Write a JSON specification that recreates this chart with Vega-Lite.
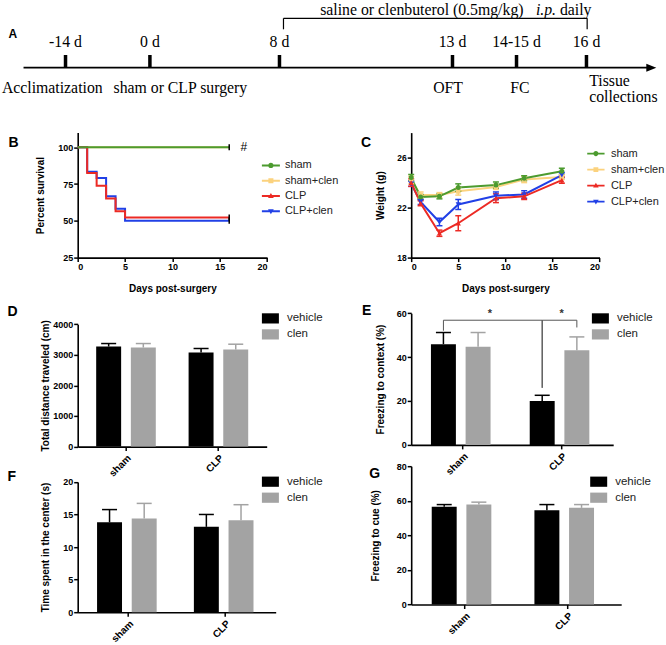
{
 "$schema": "https://vega.github.io/schema/vega-lite/v6.json",
 "padding": {"left": 1.7, "top": 0, "right": 0, "bottom": 0},
 "background": "white",
 "config": {
  "font": "Liberation Sans",
  "view": {"stroke": null},
  "axis": {"domainColor": "#000", "domainWidth": 1.6, "tickColor": "#000", "tickWidth": 1.5, "tickSize": 4, "labelColor": "#000", "labelFontSize": 9, "labelFontWeight": "bold", "labelFont": "Liberation Sans", "labelPadding": 1, "labelOverlap": false, "titleFont": "Liberation Sans", "titleFontSize": 10, "titleFontWeight": "bold", "titleColor": "#000", "grid": false},
  "axisY": {"labelOverlap": false},
  "axisLeft": {"labelOverlap": false},
  "axisQuantitative": {"labelOverlap": false},
  "legend": {"labelFont": "Liberation Sans", "labelColor": "#222", "padding": 0},
  "title": {"font": "Liberation Sans", "fontSize": 14, "fontWeight": "bold", "color": "#000", "anchor": "start", "frame": "group", "offset": 0, "baseline": "alphabetic"}
 },
 "datasets": {
  "timeline": [{"start": -9.34, "end": 98.9}],
  "events": [{"pos": -2.10, "label": "-14 d"}, {"pos": 12.45, "label": "0 d"}, {"pos": 34.79, "label": "8 d"}, {"pos": 64.62, "label": "13 d"}, {"pos": 75.66, "label": "14-15 d"}, {"pos": 87.72, "label": "16 d"}],
  "notes": [{"pos": -13.07, "note": "Acclimatization"}, {"pos": 6.17, "note": "sham or CLP surgery"}, {"pos": 61.29, "note": "OFT"}, {"pos": 74.57, "note": "FC"}],
  "notes2": [{"pos": 88.19, "note": "Tissue\ncollections"}],
  "bracket": [{"left": 35.48, "right": 87.84}],
  "treatment": [{"pos": 41.81, "text": "saline or clenbuterol (0.5mg/kg)"}, {"pos": 83.14, "text": "daily"}],
  "treatmentItalic": [{"pos": 79.0, "text": "i.p."}],
  "survival": [
   {"group": "sham+clen", "day": 0, "pct": 100}, {"group": "sham+clen", "day": 16, "pct": 100},
   {"group": "CLP+clen", "day": 0, "pct": 100}, {"group": "CLP+clen", "day": 1, "pct": 83.3}, {"group": "CLP+clen", "day": 2, "pct": 79.2}, {"group": "CLP+clen", "day": 3, "pct": 66.7}, {"group": "CLP+clen", "day": 4, "pct": 58.3}, {"group": "CLP+clen", "day": 5, "pct": 50}, {"group": "CLP+clen", "day": 16, "pct": 50},
   {"group": "CLP", "day": 0, "pct": 100}, {"group": "CLP", "day": 1, "pct": 82.6}, {"group": "CLP", "day": 2, "pct": 73.9}, {"group": "CLP", "day": 3, "pct": 65.2}, {"group": "CLP", "day": 4, "pct": 56.5}, {"group": "CLP", "day": 5, "pct": 52.2}, {"group": "CLP", "day": 16, "pct": 52.2},
   {"group": "sham", "day": 0, "pct": 100}, {"group": "sham", "day": 16, "pct": 100}
  ],
  "censor": [{"day": 16, "pct": 100}, {"day": 16, "pct": 52.2}, {"day": 16, "pct": 50}],
  "hash": [{"day": 17.55, "pct": 100, "t": "#"}],
  "weight": [
   {"group": "sham+clen", "day": 0, "mean": 24.2, "lo": 23.9, "hi": 24.5}, {"group": "sham+clen", "day": 1, "mean": 23.0, "lo": 22.75, "hi": 23.25}, {"group": "sham+clen", "day": 3, "mean": 23.0, "lo": 22.8, "hi": 23.2}, {"group": "sham+clen", "day": 5, "mean": 23.3, "lo": 23.0, "hi": 23.6}, {"group": "sham+clen", "day": 9, "mean": 23.65, "lo": 23.45, "hi": 23.85}, {"group": "sham+clen", "day": 12, "mean": 24.25, "lo": 24.0, "hi": 24.5}, {"group": "sham+clen", "day": 16, "mean": 24.45, "lo": 24.25, "hi": 24.65},
   {"group": "CLP+clen", "day": 0, "mean": 23.9, "lo": 23.7, "hi": 24.1}, {"group": "CLP+clen", "day": 1, "mean": 22.45, "lo": 22.25, "hi": 22.65}, {"group": "CLP+clen", "day": 3, "mean": 20.85, "lo": 20.55, "hi": 21.15}, {"group": "CLP+clen", "day": 5, "mean": 22.25, "lo": 21.85, "hi": 22.65}, {"group": "CLP+clen", "day": 9, "mean": 22.95, "lo": 22.65, "hi": 23.25}, {"group": "CLP+clen", "day": 12, "mean": 23.05, "lo": 22.75, "hi": 23.35}, {"group": "CLP+clen", "day": 16, "mean": 24.6, "lo": 24.4, "hi": 24.8},
   {"group": "CLP", "day": 0, "mean": 24.0, "lo": 23.7, "hi": 24.3}, {"group": "CLP", "day": 1, "mean": 22.35, "lo": 22.15, "hi": 22.55}, {"group": "CLP", "day": 3, "mean": 19.95, "lo": 19.7, "hi": 20.2}, {"group": "CLP", "day": 5, "mean": 20.75, "lo": 20.15, "hi": 21.35}, {"group": "CLP", "day": 9, "mean": 22.75, "lo": 22.4, "hi": 23.1}, {"group": "CLP", "day": 12, "mean": 22.9, "lo": 22.65, "hi": 23.15}, {"group": "CLP", "day": 16, "mean": 24.2, "lo": 23.95, "hi": 24.45},
   {"group": "sham", "day": 0, "mean": 24.4, "lo": 24.15, "hi": 24.65}, {"group": "sham", "day": 1, "mean": 22.85, "lo": 22.65, "hi": 23.05}, {"group": "sham", "day": 3, "mean": 22.9, "lo": 22.7, "hi": 23.1}, {"group": "sham", "day": 5, "mean": 23.6, "lo": 23.3, "hi": 23.9}, {"group": "sham", "day": 9, "mean": 23.8, "lo": 23.55, "hi": 24.05}, {"group": "sham", "day": 12, "mean": 24.35, "lo": 24.15, "hi": 24.55}, {"group": "sham", "day": 16, "mean": 24.9, "lo": 24.65, "hi": 25.15}
  ],
  "distance": [{"group": "sham", "treat": "vehicle", "mean": 3270, "upper": 3368}, {"group": "sham", "treat": "clen", "mean": 3237, "upper": 3368}, {"group": "CLP", "treat": "vehicle", "mean": 3074, "upper": 3204}, {"group": "CLP", "treat": "clen", "mean": 3171, "upper": 3346}],
  "context": [{"group": "sham", "treat": "vehicle", "mean": 45.9, "upper": 51.2}, {"group": "sham", "treat": "clen", "mean": 44.7, "upper": 51.2}, {"group": "CLP", "treat": "vehicle", "mean": 20.0, "upper": 22.6}, {"group": "CLP", "treat": "clen", "mean": 43.1, "upper": 49.2}],
  "brackets": [
   {"b": 1, "ord": 1, "group": "sham", "treat": "vehicle", "v": 52.0}, {"b": 1, "ord": 2, "group": "sham", "treat": "vehicle", "v": 56.8}, {"b": 1, "ord": 3, "group": "CLP", "treat": "vehicle", "v": 56.8}, {"b": 1, "ord": 4, "group": "CLP", "treat": "vehicle", "v": 26.0},
   {"b": 2, "ord": 1, "group": "CLP", "treat": "vehicle", "v": 26.0}, {"b": 2, "ord": 2, "group": "CLP", "treat": "vehicle", "v": 56.8}, {"b": 2, "ord": 3, "group": "CLP", "treat": "clen", "v": 56.8}, {"b": 2, "ord": 4, "group": "CLP", "treat": "clen", "v": 53.5}
  ],
  "stars": [{"b": 1, "group": "sham", "t": "*", "v": 61.4}, {"b": 2, "group": "CLP", "t": "*", "v": 61.4}],
  "center": [{"group": "sham", "treat": "vehicle", "mean": 13.8, "upper": 15.75}, {"group": "sham", "treat": "clen", "mean": 14.37, "upper": 16.7}, {"group": "CLP", "treat": "vehicle", "mean": 13.1, "upper": 15.0}, {"group": "CLP", "treat": "clen", "mean": 14.1, "upper": 16.5}],
  "cue": [{"group": "sham", "treat": "vehicle", "mean": 56.5, "upper": 57.8}, {"group": "sham", "treat": "clen", "mean": 57.8, "upper": 59.2}, {"group": "CLP", "treat": "vehicle", "mean": 54.5, "upper": 57.8}, {"group": "CLP", "treat": "clen", "mean": 55.9, "upper": 57.8}]
 },
 "bounds": "flush",
 "spacing": 55.6,
 "resolve": {"scale": {"color": "independent"}, "legend": {"color": "independent"}},
 "vconcat": [
  {
   "width": 580, "height": 76.1,
   "title": {"text": "A", "fontSize": 12, "dx": -69.2, "dy": 44.5},
   "layer": [
    {"data": {"name": "timeline"}, "mark": {"type": "rule", "strokeWidth": 1.8, "color": "#000"},
     "encoding": {"x": {"field": "start", "type": "quantitative", "scale": {"domain": [0, 100], "nice": false, "zero": false}, "axis": null}, "x2": {"field": "end"}, "y": {"datum": 0, "type": "quantitative", "scale": {"domain": [-0.84, 6.77], "nice": false, "zero": false}, "axis": null}}},
    {"data": {"name": "timeline"}, "mark": {"type": "point", "shape": "M-1,-0.8L1,0L-1,0.8Z", "filled": true, "size": 100, "color": "#000", "opacity": 1},
     "encoding": {"x": {"field": "end", "type": "quantitative", "scale": {"domain": [0, 100], "nice": false, "zero": false}, "axis": null}, "y": {"datum": 0, "type": "quantitative", "scale": {"domain": [-0.84, 6.77], "nice": false, "zero": false}, "axis": null}}},
    {"data": {"name": "events"}, "mark": {"type": "rule", "strokeWidth": 3.5, "color": "#000"},
     "encoding": {"x": {"field": "pos", "type": "quantitative", "scale": {"domain": [0, 100], "nice": false, "zero": false}, "axis": null}, "y": {"datum": 0, "type": "quantitative", "scale": {"domain": [-0.84, 6.77], "nice": false, "zero": false}, "axis": null}, "y2": {"datum": 1.27}}},
    {"data": {"name": "events"}, "mark": {"type": "text", "font": "Liberation Serif", "fontSize": 15.8, "baseline": "alphabetic", "align": "center", "color": "#000"},
     "encoding": {"x": {"field": "pos", "type": "quantitative", "scale": {"domain": [0, 100], "nice": false, "zero": false}, "axis": null}, "y": {"datum": 2.1, "type": "quantitative", "scale": {"domain": [-0.84, 6.77], "nice": false, "zero": false}, "axis": null}, "text": {"field": "label"}}},
    {"data": {"name": "notes"}, "mark": {"type": "text", "font": "Liberation Serif", "fontSize": 15.8, "baseline": "alphabetic", "align": "left", "color": "#000"},
     "encoding": {"x": {"field": "pos", "type": "quantitative", "scale": {"domain": [0, 100], "nice": false, "zero": false}, "axis": null}, "y": {"datum": -2.5, "type": "quantitative", "scale": {"domain": [-0.84, 6.77], "nice": false, "zero": false}, "axis": null}, "text": {"field": "note"}}},
    {"data": {"name": "notes2"}, "mark": {"type": "text", "font": "Liberation Serif", "fontSize": 15.8, "baseline": "alphabetic", "align": "left", "color": "#000", "lineBreak": "\n", "lineHeight": 15.7},
     "encoding": {"x": {"field": "pos", "type": "quantitative", "scale": {"domain": [0, 100], "nice": false, "zero": false}, "axis": null}, "y": {"datum": -1.83, "type": "quantitative", "scale": {"domain": [-0.84, 6.77], "nice": false, "zero": false}, "axis": null}, "text": {"field": "note"}}},
    {"data": {"name": "bracket"}, "mark": {"type": "rule", "strokeWidth": 1.2, "color": "#000"},
     "encoding": {"x": {"field": "left", "type": "quantitative", "scale": {"domain": [0, 100], "nice": false, "zero": false}, "axis": null}, "x2": {"field": "right"}, "y": {"datum": 4.94, "type": "quantitative", "scale": {"domain": [-0.84, 6.77], "nice": false, "zero": false}, "axis": null}}},
    {"data": {"name": "bracket"}, "mark": {"type": "rule", "strokeWidth": 1.2, "color": "#000"},
     "encoding": {"x": {"field": "left", "type": "quantitative", "scale": {"domain": [0, 100], "nice": false, "zero": false}, "axis": null}, "y": {"datum": 3.84, "type": "quantitative", "scale": {"domain": [-0.84, 6.77], "nice": false, "zero": false}, "axis": null}, "y2": {"datum": 4.94}}},
    {"data": {"name": "bracket"}, "mark": {"type": "rule", "strokeWidth": 1.2, "color": "#000"},
     "encoding": {"x": {"field": "right", "type": "quantitative", "scale": {"domain": [0, 100], "nice": false, "zero": false}, "axis": null}, "y": {"datum": 3.84, "type": "quantitative", "scale": {"domain": [-0.84, 6.77], "nice": false, "zero": false}, "axis": null}, "y2": {"datum": 4.94}}},
    {"data": {"name": "treatment"}, "mark": {"type": "text", "font": "Liberation Serif", "fontSize": 15.8, "baseline": "top", "align": "left", "color": "#000"},
     "encoding": {"x": {"field": "pos", "type": "quantitative", "scale": {"domain": [0, 100], "nice": false, "zero": false}, "axis": null}, "y": {"datum": 6.52, "type": "quantitative", "scale": {"domain": [-0.84, 6.77], "nice": false, "zero": false}, "axis": null}, "text": {"field": "text"}}},
    {"data": {"name": "treatmentItalic"}, "mark": {"type": "text", "font": "Liberation Serif", "fontSize": 15.8, "fontStyle": "italic", "baseline": "top", "align": "left", "color": "#000"},
     "encoding": {"x": {"field": "pos", "type": "quantitative", "scale": {"domain": [0, 100], "nice": false, "zero": false}, "axis": null}, "y": {"datum": 6.52, "type": "quantitative", "scale": {"domain": [-0.84, 6.77], "nice": false, "zero": false}, "axis": null}, "text": {"field": "text"}}}
   ]
  },
  {
   "concat": [
    {
     "width": 189.4, "height": 125,
     "title": {"text": "B", "dx": -69.2, "dy": 21.1},
     "layer": [
      {"data": {"name": "survival"}, "mark": {"type": "line", "interpolate": "step-after", "strokeWidth": 2},
       "encoding": {
        "x": {"field": "day", "type": "quantitative", "scale": {"domain": [0, 20], "nice": false}, "axis": {"values": [0, 5, 10, 15, 20], "title": "Days post-surgery", "titlePadding": 12}},
        "y": {"field": "pct", "type": "quantitative", "scale": {"domain": [25, 110], "nice": false, "zero": false}, "axis": {"values": [25, 50, 75, 100], "title": "Percent survival", "titleX": -32, "titleBaseline": "bottom"}},
        "color": {"field": "group", "type": "nominal", "scale": {"domain": ["sham", "sham+clen", "CLP", "CLP+clen"], "range": ["#4c9b2f", "#fbd27e", "#ec2a24", "#2140e6"]},
         "legend": {"orient": "none", "legendX": 184.2, "legendY": 23.8, "title": null, "symbolSize": 324, "symbolStrokeWidth": 0, "labelFontSize": 11, "labelOffset": 5, "rowPadding": 1.3, "padding": 0,
          "encode": {"symbols": {"update": {"shape": {"signal": "datum.value === 'sham' ? 'M-1,-0.11H1V0.11H-1Z M0.3,0A0.3,0.3 0 1 1 -0.3,0A0.3,0.3 0 1 1 0.3,0Z' : datum.value === 'sham+clen' ? 'M-1,-0.11H1V0.11H-1Z M-0.28,-0.28H0.28V0.28H-0.28Z' : datum.value === 'CLP' ? 'M-1,-0.11H1V0.11H-1Z M0,-0.34L0.32,0.22L-0.32,0.22Z' : 'M-1,-0.11H1V0.11H-1Z M0,0.34L-0.32,-0.22L0.32,-0.22Z'"}, "fill": {"signal": "datum.value === 'sham' ? '#4c9b2f' : datum.value === 'sham+clen' ? '#fbd27e' : datum.value === 'CLP' ? '#ec2a24' : '#2140e6'"}, "opacity": {"value": 1}}}}}}
       }},
      {"data": {"name": "censor"}, "mark": {"type": "tick", "orient": "vertical", "size": 6, "thickness": 1.5, "color": "#000", "opacity": 1},
       "encoding": {"x": {"field": "day", "type": "quantitative", "scale": {"domain": [0, 20], "nice": false}}, "y": {"field": "pct", "type": "quantitative", "scale": {"domain": [25, 110], "nice": false, "zero": false}}}},
      {"data": {"name": "hash"}, "mark": {"type": "text", "fontSize": 12, "color": "#000", "baseline": "middle", "align": "center"},
       "encoding": {"x": {"field": "day", "type": "quantitative", "scale": {"domain": [0, 20], "nice": false}}, "y": {"field": "pct", "type": "quantitative", "scale": {"domain": [25, 110], "nice": false, "zero": false}}, "text": {"field": "t"}}}
     ]
    },
    {
     "width": 188.3, "height": 125,
     "title": {"text": "C", "dx": -50.3, "dy": 21.1},
     "layer": [
      {"data": {"name": "weight"}, "mark": {"type": "line", "strokeWidth": 2},
       "encoding": {
        "x": {"field": "day", "type": "quantitative", "scale": {"domain": [0, 20], "nice": false}, "axis": {"values": [0, 5, 10, 15, 20], "title": "Days post-surgery", "titlePadding": 12}},
        "y": {"field": "mean", "type": "quantitative", "scale": {"domain": [18, 28], "nice": false, "zero": false}, "axis": {"values": [18, 20, 22, 24, 26, 28], "title": "Weight (g)", "titleX": -26, "titleBaseline": "bottom", "labelOverlap": false, "labelSeparation": -30, "labelFontSize": 8.5}},
        "color": {"field": "group", "type": "nominal", "scale": {"domain": ["sham", "sham+clen", "CLP", "CLP+clen"], "range": ["#4c9b2f", "#fbd27e", "#ec2a24", "#2140e6"]},
         "legend": {"orient": "none", "legendX": 175.7, "legendY": 12, "title": null, "symbolSize": 300, "symbolStrokeWidth": 0, "labelFontSize": 11, "labelOffset": 6, "rowPadding": 2, "padding": 0,
          "encode": {"symbols": {"update": {"shape": {"signal": "datum.value === 'sham' ? 'M-1,-0.11H1V0.11H-1Z M0.3,0A0.3,0.3 0 1 1 -0.3,0A0.3,0.3 0 1 1 0.3,0Z' : datum.value === 'sham+clen' ? 'M-1,-0.11H1V0.11H-1Z M-0.28,-0.28H0.28V0.28H-0.28Z' : datum.value === 'CLP' ? 'M-1,-0.11H1V0.11H-1Z M0,-0.34L0.32,0.22L-0.32,0.22Z' : 'M-1,-0.11H1V0.11H-1Z M0,0.34L-0.32,-0.22L0.32,-0.22Z'"}, "fill": {"signal": "datum.value === 'sham' ? '#4c9b2f' : datum.value === 'sham+clen' ? '#fbd27e' : datum.value === 'CLP' ? '#ec2a24' : '#2140e6'"}, "opacity": {"value": 1}}}}}}
       }},
      {"data": {"name": "weight"}, "mark": {"type": "rule", "strokeWidth": 1.5},
       "encoding": {
        "x": {"field": "day", "type": "quantitative", "scale": {"domain": [0, 20], "nice": false}},
        "y": {"field": "lo", "type": "quantitative", "scale": {"domain": [18, 28], "nice": false, "zero": false}},
        "y2": {"field": "hi"},
        "color": {"field": "group", "type": "nominal", "scale": {"domain": ["sham", "sham+clen", "CLP", "CLP+clen"], "range": ["#4c9b2f", "#fbd27e", "#ec2a24", "#2140e6"]}}
       }},
      {"data": {"name": "weight"}, "mark": {"type": "tick", "orient": "horizontal", "thickness": 1.5, "size": 6, "opacity": 1},
       "encoding": {
        "x": {"field": "day", "type": "quantitative", "scale": {"domain": [0, 20], "nice": false}},
        "y": {"field": "lo", "type": "quantitative", "scale": {"domain": [18, 28], "nice": false, "zero": false}},
        "color": {"field": "group", "type": "nominal", "scale": {"domain": ["sham", "sham+clen", "CLP", "CLP+clen"], "range": ["#4c9b2f", "#fbd27e", "#ec2a24", "#2140e6"]}}
       }},
      {"data": {"name": "weight"}, "mark": {"type": "tick", "orient": "horizontal", "thickness": 1.5, "size": 6, "opacity": 1},
       "encoding": {
        "x": {"field": "day", "type": "quantitative", "scale": {"domain": [0, 20], "nice": false}},
        "y": {"field": "hi", "type": "quantitative", "scale": {"domain": [18, 28], "nice": false, "zero": false}},
        "color": {"field": "group", "type": "nominal", "scale": {"domain": ["sham", "sham+clen", "CLP", "CLP+clen"], "range": ["#4c9b2f", "#fbd27e", "#ec2a24", "#2140e6"]}}
       }},
      {"data": {"name": "weight"}, "transform": [{"filter": "datum.group === 'sham+clen'"}], "mark": {"type": "point", "shape": "square", "filled": true, "size": 22, "opacity": 1},
       "encoding": {"x": {"field": "day", "type": "quantitative", "scale": {"domain": [0, 20], "nice": false}}, "y": {"field": "mean", "type": "quantitative", "scale": {"domain": [18, 28], "nice": false, "zero": false}}, "color": {"field": "group", "type": "nominal", "scale": {"domain": ["sham", "sham+clen", "CLP", "CLP+clen"], "range": ["#4c9b2f", "#fbd27e", "#ec2a24", "#2140e6"]}}}},
      {"data": {"name": "weight"}, "transform": [{"filter": "datum.group === 'CLP+clen'"}], "mark": {"type": "point", "shape": "triangle-down", "filled": true, "size": 28, "opacity": 1},
       "encoding": {"x": {"field": "day", "type": "quantitative", "scale": {"domain": [0, 20], "nice": false}}, "y": {"field": "mean", "type": "quantitative", "scale": {"domain": [18, 28], "nice": false, "zero": false}}, "color": {"field": "group", "type": "nominal", "scale": {"domain": ["sham", "sham+clen", "CLP", "CLP+clen"], "range": ["#4c9b2f", "#fbd27e", "#ec2a24", "#2140e6"]}}}},
      {"data": {"name": "weight"}, "transform": [{"filter": "datum.group === 'CLP'"}], "mark": {"type": "point", "shape": "triangle-up", "filled": true, "size": 28, "opacity": 1},
       "encoding": {"x": {"field": "day", "type": "quantitative", "scale": {"domain": [0, 20], "nice": false}}, "y": {"field": "mean", "type": "quantitative", "scale": {"domain": [18, 28], "nice": false, "zero": false}}, "color": {"field": "group", "type": "nominal", "scale": {"domain": ["sham", "sham+clen", "CLP", "CLP+clen"], "range": ["#4c9b2f", "#fbd27e", "#ec2a24", "#2140e6"]}}}},
      {"data": {"name": "weight"}, "transform": [{"filter": "datum.group === 'sham'"}], "mark": {"type": "point", "shape": "circle", "filled": true, "size": 25, "opacity": 1},
       "encoding": {"x": {"field": "day", "type": "quantitative", "scale": {"domain": [0, 20], "nice": false}}, "y": {"field": "mean", "type": "quantitative", "scale": {"domain": [18, 28], "nice": false, "zero": false}}, "color": {"field": "group", "type": "nominal", "scale": {"domain": ["sham", "sham+clen", "CLP", "CLP+clen"], "range": ["#4c9b2f", "#fbd27e", "#ec2a24", "#2140e6"]}}}}
     ]
    },
    {
     "width": 189, "height": 169.7,
     "title": {"text": "D", "dx": -70.2, "dy": 45.8},
     "layer": [
      {"data": {"name": "distance"}, "mark": {"type": "bar"},
       "encoding": {
        "x": {"field": "group", "type": "nominal", "scale": {"domain": ["sham", "CLP"], "paddingInner": 0.355, "paddingOuter": 0.2}, "axis": {"title": null, "labelAngle": -45, "labelFontSize": 10, "labelPadding": 2}},
        "xOffset": {"field": "treat", "type": "nominal", "scale": {"domain": ["vehicle", "clen"], "paddingInner": 0.28, "paddingOuter": 0}},
        "y": {"field": "mean", "type": "quantitative", "scale": {"domain": [0, 4000], "range": [169.7, 47.3], "nice": false}, "axis": {"values": [0, 1000, 2000, 3000, 4000], "format": "d", "title": "Total distance traveled (cm)", "titleX": -27.5, "titleBaseline": "bottom"}},
        "color": {"field": "treat", "type": "nominal", "scale": {"domain": ["vehicle", "clen"], "range": ["#000000", "#a3a3a3"]},
         "legend": {"orient": "none", "legendX": 184.2, "legendY": 33, "title": null, "symbolType": "M-1,-0.6H1V0.6H-1Z", "symbolSize": 289, "symbolStrokeWidth": 0, "symbolOpacity": 1, "labelFontSize": 11.5, "labelOffset": 8, "rowPadding": 2, "padding": 0}}
       }},
      {"data": {"name": "distance"}, "mark": {"type": "rule", "strokeWidth": 1.5},
       "encoding": {
        "x": {"field": "group", "type": "nominal", "scale": {"domain": ["sham", "CLP"], "paddingInner": 0.355, "paddingOuter": 0.2}, "axis": {"title": null, "labelAngle": -45, "labelFontSize": 10, "labelPadding": 2}},
        "xOffset": {"field": "treat", "type": "nominal", "scale": {"domain": ["vehicle", "clen"], "paddingInner": 0.28, "paddingOuter": 0}},
        "y": {"field": "mean", "type": "quantitative", "scale": {"domain": [0, 4000], "range": [169.7, 47.3], "nice": false}, "axis": {"values": [0, 1000, 2000, 3000, 4000], "format": "d", "title": "Total distance traveled (cm)", "titleX": -27.5, "titleBaseline": "bottom"}},
        "y2": {"field": "upper"},
        "color": {"field": "treat", "type": "nominal", "scale": {"domain": ["vehicle", "clen"], "range": ["#000000", "#a3a3a3"]}}
       }},
      {"data": {"name": "distance"}, "mark": {"type": "tick", "thickness": 1.5, "size": 15, "opacity": 1},
       "encoding": {
        "x": {"field": "group", "type": "nominal", "scale": {"domain": ["sham", "CLP"], "paddingInner": 0.355, "paddingOuter": 0.2}, "axis": {"title": null, "labelAngle": -45, "labelFontSize": 10, "labelPadding": 2}},
        "xOffset": {"field": "treat", "type": "nominal", "scale": {"domain": ["vehicle", "clen"], "paddingInner": 0.28, "paddingOuter": 0}},
        "y": {"field": "upper", "type": "quantitative", "scale": {"domain": [0, 4000], "range": [169.7, 47.3], "nice": false}, "axis": {"values": [0, 1000, 2000, 3000, 4000], "format": "d", "title": "Total distance traveled (cm)", "titleX": -27.5, "titleBaseline": "bottom"}},
        "color": {"field": "treat", "type": "nominal", "scale": {"domain": ["vehicle", "clen"], "range": ["#000000", "#a3a3a3"]}}
       }}
     ]
    },
    {
     "width": 202, "height": 168,
     "title": {"text": "E", "dx": -49.3, "dy": 45.2},
     "layer": [
      {"data": {"name": "context"}, "mark": {"type": "bar"},
       "encoding": {
        "x": {"field": "group", "type": "nominal", "scale": {"domain": ["sham", "CLP"], "paddingInner": 0.355, "paddingOuter": 0.2}, "axis": {"title": null, "labelAngle": -45, "labelFontSize": 10, "labelPadding": 2}},
        "xOffset": {"field": "treat", "type": "nominal", "scale": {"domain": ["vehicle", "clen"], "paddingInner": 0.28, "paddingOuter": 0}},
        "y": {"field": "mean", "type": "quantitative", "scale": {"domain": [0, 60], "range": [168, 36.3], "nice": false}, "axis": {"values": [0, 20, 40, 60], "title": "Freezing to context (%)", "titleX": -26, "titleBaseline": "bottom"}},
        "color": {"field": "treat", "type": "nominal", "scale": {"domain": ["vehicle", "clen"], "range": ["#000000", "#a3a3a3"]},
         "legend": {"orient": "none", "legendX": 180.7, "legendY": 33, "title": null, "symbolType": "M-1,-0.6H1V0.6H-1Z", "symbolSize": 289, "symbolStrokeWidth": 0, "symbolOpacity": 1, "labelFontSize": 11.5, "labelOffset": 8, "rowPadding": 2, "padding": 0}}
       }},
      {"data": {"name": "context"}, "mark": {"type": "rule", "strokeWidth": 1.5},
       "encoding": {
        "x": {"field": "group", "type": "nominal", "scale": {"domain": ["sham", "CLP"], "paddingInner": 0.355, "paddingOuter": 0.2}, "axis": {"title": null, "labelAngle": -45, "labelFontSize": 10, "labelPadding": 2}},
        "xOffset": {"field": "treat", "type": "nominal", "scale": {"domain": ["vehicle", "clen"], "paddingInner": 0.28, "paddingOuter": 0}},
        "y": {"field": "mean", "type": "quantitative", "scale": {"domain": [0, 60], "range": [168, 36.3], "nice": false}, "axis": {"values": [0, 20, 40, 60], "title": "Freezing to context (%)", "titleX": -26, "titleBaseline": "bottom"}},
        "y2": {"field": "upper"},
        "color": {"field": "treat", "type": "nominal", "scale": {"domain": ["vehicle", "clen"], "range": ["#000000", "#a3a3a3"]}}
       }},
      {"data": {"name": "context"}, "mark": {"type": "tick", "thickness": 1.5, "size": 15, "opacity": 1},
       "encoding": {
        "x": {"field": "group", "type": "nominal", "scale": {"domain": ["sham", "CLP"], "paddingInner": 0.355, "paddingOuter": 0.2}, "axis": {"title": null, "labelAngle": -45, "labelFontSize": 10, "labelPadding": 2}},
        "xOffset": {"field": "treat", "type": "nominal", "scale": {"domain": ["vehicle", "clen"], "paddingInner": 0.28, "paddingOuter": 0}},
        "y": {"field": "upper", "type": "quantitative", "scale": {"domain": [0, 60], "range": [168, 36.3], "nice": false}, "axis": {"values": [0, 20, 40, 60], "title": "Freezing to context (%)", "titleX": -26, "titleBaseline": "bottom"}},
        "color": {"field": "treat", "type": "nominal", "scale": {"domain": ["vehicle", "clen"], "range": ["#000000", "#a3a3a3"]}}
       }},
      {"data": {"name": "brackets"}, "transform": [{"filter": "datum.b === 1"}], "mark": {"type": "line", "strokeWidth": 1, "color": "#555", "xOffset": -4},
       "encoding": {
        "x": {"field": "group", "type": "nominal", "scale": {"domain": ["sham", "CLP"], "paddingInner": 0.355, "paddingOuter": 0.2}, "axis": {"title": null, "labelAngle": -45, "labelFontSize": 10, "labelPadding": 2}},
        "xOffset": {"field": "treat", "type": "nominal", "scale": {"domain": ["vehicle", "clen"], "paddingInner": 0.28, "paddingOuter": 0}},
        "y": {"field": "v", "type": "quantitative", "scale": {"domain": [0, 60], "range": [168, 36.3], "nice": false}, "axis": {"values": [0, 20, 40, 60], "title": "Freezing to context (%)", "titleX": -26, "titleBaseline": "bottom"}},
        "order": {"field": "ord", "type": "quantitative"}
       }},
      {"data": {"name": "brackets"}, "transform": [{"filter": "datum.b === 2"}], "mark": {"type": "line", "strokeWidth": 1, "color": "#555", "xOffset": 4},
       "encoding": {
        "x": {"field": "group", "type": "nominal", "scale": {"domain": ["sham", "CLP"], "paddingInner": 0.355, "paddingOuter": 0.2}, "axis": {"title": null, "labelAngle": -45, "labelFontSize": 10, "labelPadding": 2}},
        "xOffset": {"field": "treat", "type": "nominal", "scale": {"domain": ["vehicle", "clen"], "paddingInner": 0.28, "paddingOuter": 0}},
        "y": {"field": "v", "type": "quantitative", "scale": {"domain": [0, 60], "range": [168, 36.3], "nice": false}, "axis": {"values": [0, 20, 40, 60], "title": "Freezing to context (%)", "titleX": -26, "titleBaseline": "bottom"}},
        "order": {"field": "ord", "type": "quantitative"}
       }},
      {"data": {"name": "stars"}, "transform": [{"filter": "datum.b === 1"}], "mark": {"type": "text", "fontSize": 11, "fontWeight": "bold", "baseline": "middle", "align": "center", "color": "#333", "dx": 27, "dy": 4},
       "encoding": {
        "x": {"field": "group", "type": "nominal", "scale": {"domain": ["sham", "CLP"], "paddingInner": 0.355, "paddingOuter": 0.2}, "axis": {"title": null, "labelAngle": -45, "labelFontSize": 10, "labelPadding": 2}},
        "y": {"field": "v", "type": "quantitative", "scale": {"domain": [0, 60], "range": [168, 36.3], "nice": false}, "axis": {"values": [0, 20, 40, 60], "title": "Freezing to context (%)", "titleX": -26, "titleBaseline": "bottom"}},
        "text": {"field": "t"}
       }},
      {"data": {"name": "stars"}, "transform": [{"filter": "datum.b === 2"}], "mark": {"type": "text", "fontSize": 11, "fontWeight": "bold", "baseline": "middle", "align": "center", "color": "#333", "dy": 4},
       "encoding": {
        "x": {"field": "group", "type": "nominal", "scale": {"domain": ["sham", "CLP"], "paddingInner": 0.355, "paddingOuter": 0.2}, "axis": {"title": null, "labelAngle": -45, "labelFontSize": 10, "labelPadding": 2}},
        "y": {"field": "v", "type": "quantitative", "scale": {"domain": [0, 60], "range": [168, 36.3], "nice": false}, "axis": {"values": [0, 20, 40, 60], "title": "Freezing to context (%)", "titleX": -26, "titleBaseline": "bottom"}},
        "text": {"field": "t"}
       }}
     ]
    },
    {
     "width": 198, "height": 146,
     "title": {"text": "F", "dx": -70.2, "dy": 21.5},
     "layer": [
      {"data": {"name": "center"}, "mark": {"type": "bar"},
       "encoding": {
        "x": {"field": "group", "type": "nominal", "scale": {"domain": ["sham", "CLP"], "paddingInner": 0.355, "paddingOuter": 0.2}, "axis": {"title": null, "labelAngle": -45, "labelFontSize": 10, "labelPadding": 2}},
        "xOffset": {"field": "treat", "type": "nominal", "scale": {"domain": ["vehicle", "clen"], "paddingInner": 0.28, "paddingOuter": 0}},
        "y": {"field": "mean", "type": "quantitative", "scale": {"domain": [0, 20], "range": [146, 15.7], "nice": false}, "axis": {"values": [0, 5, 10, 15, 20], "title": "Time spent in the center (s)", "titleX": -27.5, "titleBaseline": "bottom"}},
        "color": {"field": "treat", "type": "nominal", "scale": {"domain": ["vehicle", "clen"], "range": ["#000000", "#a3a3a3"]},
         "legend": {"orient": "none", "legendX": 184.2, "legendY": 7, "title": null, "symbolType": "M-1,-0.6H1V0.6H-1Z", "symbolSize": 289, "symbolStrokeWidth": 0, "symbolOpacity": 1, "labelFontSize": 11.5, "labelOffset": 8, "rowPadding": 2, "padding": 0}}
       }},
      {"data": {"name": "center"}, "mark": {"type": "rule", "strokeWidth": 1.5},
       "encoding": {
        "x": {"field": "group", "type": "nominal", "scale": {"domain": ["sham", "CLP"], "paddingInner": 0.355, "paddingOuter": 0.2}, "axis": {"title": null, "labelAngle": -45, "labelFontSize": 10, "labelPadding": 2}},
        "xOffset": {"field": "treat", "type": "nominal", "scale": {"domain": ["vehicle", "clen"], "paddingInner": 0.28, "paddingOuter": 0}},
        "y": {"field": "mean", "type": "quantitative", "scale": {"domain": [0, 20], "range": [146, 15.7], "nice": false}, "axis": {"values": [0, 5, 10, 15, 20], "title": "Time spent in the center (s)", "titleX": -27.5, "titleBaseline": "bottom"}},
        "y2": {"field": "upper"},
        "color": {"field": "treat", "type": "nominal", "scale": {"domain": ["vehicle", "clen"], "range": ["#000000", "#a3a3a3"]}}
       }},
      {"data": {"name": "center"}, "mark": {"type": "tick", "thickness": 1.5, "size": 15, "opacity": 1},
       "encoding": {
        "x": {"field": "group", "type": "nominal", "scale": {"domain": ["sham", "CLP"], "paddingInner": 0.355, "paddingOuter": 0.2}, "axis": {"title": null, "labelAngle": -45, "labelFontSize": 10, "labelPadding": 2}},
        "xOffset": {"field": "treat", "type": "nominal", "scale": {"domain": ["vehicle", "clen"], "paddingInner": 0.28, "paddingOuter": 0}},
        "y": {"field": "upper", "type": "quantitative", "scale": {"domain": [0, 20], "range": [146, 15.7], "nice": false}, "axis": {"values": [0, 5, 10, 15, 20], "title": "Time spent in the center (s)", "titleX": -27.5, "titleBaseline": "bottom"}},
        "color": {"field": "treat", "type": "nominal", "scale": {"domain": ["vehicle", "clen"], "range": ["#000000", "#a3a3a3"]}}
       }}
     ]
    },
    {
     "width": 210, "height": 138.3,
     "title": {"text": "G", "dx": -42, "dy": 22.8},
     "layer": [
      {"data": {"name": "cue"}, "mark": {"type": "bar"},
       "encoding": {
        "x": {"field": "group", "type": "nominal", "scale": {"domain": ["sham", "CLP"], "paddingInner": 0.355, "paddingOuter": 0.2}, "axis": {"title": null, "labelAngle": -45, "labelFontSize": 10, "labelPadding": 2}},
        "xOffset": {"field": "treat", "type": "nominal", "scale": {"domain": ["vehicle", "clen"], "paddingInner": 0.28, "paddingOuter": 0}},
        "y": {"field": "mean", "type": "quantitative", "scale": {"domain": [0, 80], "nice": false}, "axis": {"values": [0, 20, 40, 60, 80], "title": "Freezing to cue (%)", "titleX": -31, "titleBaseline": "bottom"}},
        "color": {"field": "treat", "type": "nominal", "scale": {"domain": ["vehicle", "clen"], "range": ["#000000", "#a3a3a3"]},
         "legend": {"orient": "none", "legendX": 179, "legendY": 7, "title": null, "symbolType": "M-1,-0.6H1V0.6H-1Z", "symbolSize": 289, "symbolStrokeWidth": 0, "symbolOpacity": 1, "labelFontSize": 11.5, "labelOffset": 8, "rowPadding": 2, "padding": 0}}
       }},
      {"data": {"name": "cue"}, "mark": {"type": "rule", "strokeWidth": 1.5},
       "encoding": {
        "x": {"field": "group", "type": "nominal", "scale": {"domain": ["sham", "CLP"], "paddingInner": 0.355, "paddingOuter": 0.2}, "axis": {"title": null, "labelAngle": -45, "labelFontSize": 10, "labelPadding": 2}},
        "xOffset": {"field": "treat", "type": "nominal", "scale": {"domain": ["vehicle", "clen"], "paddingInner": 0.28, "paddingOuter": 0}},
        "y": {"field": "mean", "type": "quantitative", "scale": {"domain": [0, 80], "nice": false}, "axis": {"values": [0, 20, 40, 60, 80], "title": "Freezing to cue (%)", "titleX": -31, "titleBaseline": "bottom"}},
        "y2": {"field": "upper"},
        "color": {"field": "treat", "type": "nominal", "scale": {"domain": ["vehicle", "clen"], "range": ["#000000", "#a3a3a3"]}}
       }},
      {"data": {"name": "cue"}, "mark": {"type": "tick", "thickness": 1.5, "size": 15, "opacity": 1},
       "encoding": {
        "x": {"field": "group", "type": "nominal", "scale": {"domain": ["sham", "CLP"], "paddingInner": 0.355, "paddingOuter": 0.2}, "axis": {"title": null, "labelAngle": -45, "labelFontSize": 10, "labelPadding": 2}},
        "xOffset": {"field": "treat", "type": "nominal", "scale": {"domain": ["vehicle", "clen"], "paddingInner": 0.28, "paddingOuter": 0}},
        "y": {"field": "upper", "type": "quantitative", "scale": {"domain": [0, 80], "nice": false}, "axis": {"values": [0, 20, 40, 60, 80], "title": "Freezing to cue (%)", "titleX": -31, "titleBaseline": "bottom"}},
        "color": {"field": "treat", "type": "nominal", "scale": {"domain": ["vehicle", "clen"], "range": ["#000000", "#a3a3a3"]}}
       }}
     ]
    }
   ],
   "columns": 2,
   "spacing": {"row": 19.3, "column": 135.5},
   "bounds": "flush",
   "resolve": {"scale": {"color": "independent"}, "legend": {"color": "independent"}}
  }
 ]
}
